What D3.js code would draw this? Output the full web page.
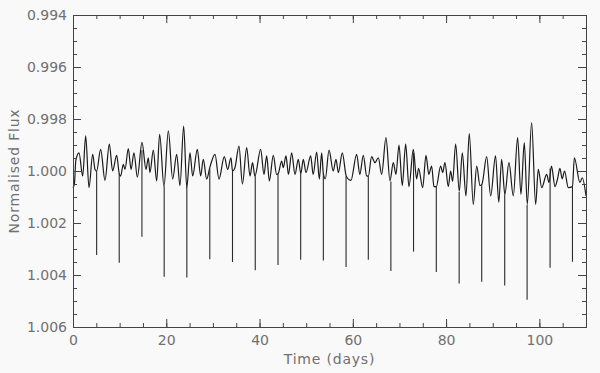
<!DOCTYPE html>
<html>
<head>
<meta charset="utf-8">
<script src="https://cdn.jsdelivr.net/npm/d3@7"></script>
<style>
  body { margin: 0; background: #f9f9f9; }
  svg { display: block; }
  .tick text { font-family: "DejaVu Sans", sans-serif; font-size: 14px; fill: #707070; }
  .axis path, .axis line { stroke: #444; }
</style>
</head>
<body>
<svg id="drawing_region"></svg>
<script>
// light curve (peaks and troughs), time in days
const curveTime = [0.0, 0.3, 0.6, 1.29, 2.08, 2.72, 3.43, 4.22, 4.72, 5.07, 5.93, 6.86, 7.79, 8.5, 9.36, 9.91, 10.2, 10.79, 11.15, 11.86, 12.44, 13.08, 13.8, 14.8, 15.65, 16.15, 16.5, 17.22, 17.94, 18.58, 19.51, 20.44, 21.37, 22.23, 22.94, 23.73, 24.4, 25.09, 25.66, 26.66, 27.37, 27.94, 28.66, 29.33, 29.6, 30.45, 31.3, 32.45, 33.16, 33.88, 34.2, 34.73, 35.59, 36.33, 37.24, 37.95, 38.5, 39.0, 40.24, 40.95, 41.53, 42.1, 42.95, 43.66, 44.0, 44.74, 45.09, 45.67, 46.2, 46.89, 47.6, 48.31, 48.85, 49.38, 49.96, 50.96, 51.5, 52.25, 52.82, 53.32, 53.68, 54.1, 54.9, 55.8, 56.39, 56.9, 57.75, 58.6, 59.6, 60.82, 61.5, 62.25, 62.97, 63.32, 64.04, 64.75, 65.47, 66.19, 67.11, 67.97, 68.68, 69.25, 69.9, 70.6, 71.33, 72.04, 72.97, 73.68, 74.1, 74.98, 75.69, 76.3, 76.9, 77.4, 77.9, 78.83, 79.27, 79.76, 80.47, 80.98, 81.4, 82.05, 82.83, 83.48, 84.26, 84.97, 85.83, 86.56, 87.27, 87.7, 88.7, 89.56, 90.6, 91.3, 91.91, 92.6, 93.48, 94.41, 95.34, 96.05, 96.77, 97.41, 98.34, 99.2, 99.77, 100.5, 101.57, 102.06, 102.6, 103.35, 103.9, 104.4, 104.9, 105.4, 106.2, 107.1, 107.5, 108.7, 109.2, 110.0];
const curveFlux = [1.00065, 1.0005, 0.9996, 0.9993, 1.00019, 0.99865, 1.00064, 0.99936, 0.99994, 1.0000, 0.99917, 1.00036, 0.99897, 1.0000, 0.9994, 1.0001, 1.0002, 0.99974, 0.99994, 0.99914, 0.99994, 0.9993, 1.00024, 0.9989, 0.99994, 0.99949, 1.00006, 0.9992, 1.00038, 0.99859, 1.0006, 0.99846, 1.00031, 0.99936, 1.00056, 0.99827, 1.00064, 0.9993, 1.00019, 0.99917, 1.00019, 0.99955, 1.00031, 0.99987, 0.9997, 0.99936, 1.00031, 0.99945, 0.99994, 0.99949, 1.0000, 0.99987, 0.99904, 1.0005, 0.9991, 1.00019, 0.99968, 1.0002, 0.99917, 1.00013, 0.99942, 1.00038, 0.9994, 1.00013, 1.0001, 0.99962, 0.99987, 0.99942, 1.00013, 0.9993, 1.00013, 0.99955, 1.0001, 0.99955, 1.00006, 0.99942, 1.00013, 0.99927, 1.00031, 0.9993, 1.0001, 1.0003, 0.9992, 1.0000, 0.99955, 1.00006, 0.9993, 1.0002, 1.00036, 0.99936, 1.00013, 0.9994, 1.00019, 1.0002, 0.99945, 0.99968, 0.99949, 1.00013, 0.99872, 1.00038, 0.99968, 1.00013, 0.999, 1.00056, 0.99897, 1.0006, 0.99917, 1.0003, 0.9999, 1.00064, 0.9994, 1.00013, 0.99981, 1.0006, 1.0006, 0.99981, 1.00006, 0.99968, 1.0006, 1.0000, 1.0004, 0.99897, 1.00077, 0.9993, 1.00096, 0.99856, 1.00128, 0.99981, 1.00056, 1.0005, 0.99945, 1.00096, 0.99942, 1.0012, 0.99955, 1.0009, 0.99968, 1.00096, 0.99872, 1.0009, 0.99891, 1.00128, 0.99814, 1.00128, 0.99994, 1.00064, 1.00013, 1.00044, 0.99981, 1.0006, 1.0003, 0.9999, 1.0003, 1.0000, 1.00064, 1.0006, 0.99949, 1.00044, 1.00026, 1.00096];

// transits: time, flux at the top of the dip and flux at the bottom
const transitTime = [5.07, 9.91, 14.78, 19.55, 24.41, 29.33, 34.2, 39.08, 43.96, 48.82, 53.68, 58.55, 63.32, 68.16, 73.02, 77.9, 82.8, 87.64, 92.57, 97.37, 102.3, 107.1];
const transitTop = [1.0000, 1.0001, 0.9992, 1.0006, 1.0006, 0.9999, 1.0000, 1.0002, 1.0001, 1.0001, 1.0001, 1.0002, 1.0002, 1.0004, 0.9993, 1.0006, 1.0008, 1.0005, 1.0009, 1.0013, 0.9999, 1.0006];
const transitDepth = [1.00323, 1.00353, 1.00253, 1.00407, 1.0041, 1.00339, 1.0035, 1.00382, 1.00362, 1.00341, 1.00344, 1.00369, 1.00341, 1.00385, 1.0031, 1.00388, 1.00433, 1.00426, 1.0044, 1.00495, 1.00372, 1.00349];

// axis ticks
const xTicks = [0, 20, 40, 60, 80, 100];
const xMinor = d3.range(0, 111, 5);
const yTicks = [0.994, 0.996, 0.998, 1.000, 1.002, 1.004, 1.006];
const yMinor = d3.range(0, 25).map(i => 0.994 + i * 0.0005);

const config = {
    parent: '#drawing_region',
    width: 600,
    height: 373,
    margin: {top: 15, right: 14, bottom: 46, left: 73}
};

const svg = d3.select(config.parent)
    .attr('width', config.width)
    .attr('height', config.height);

const m = config.margin;
const w = config.width - m.left - m.right;
const h = config.height - m.top - m.bottom;

const chart = svg.append('g')
    .attr('transform', `translate(${m.left}, ${m.top})`);

const xscale = d3.scaleLinear().domain([0, 110]).range([0, w]);
const yscale = d3.scaleLinear().domain([0.994, 1.006]).range([0, h]);

// light curve
const points = curveTime.map((t, i) => [t, curveFlux[i]]);
const line = d3.line()
    .x(d => xscale(d[0]))
    .y(d => yscale(d[1]))
    .curve(d3.curveMonotoneX);

chart.append('path')
    .datum(points)
    .attr('d', line)
    .attr('fill', 'none')
    .attr('stroke', '#1a1a1a')
    .attr('stroke-width', 1.2);

// transit dips
chart.selectAll('.transit')
    .data(transitTime)
    .enter()
    .append('line')
    .attr('class', 'transit')
    .attr('x1', d => xscale(d))
    .attr('x2', d => xscale(d))
    .attr('y1', (d, i) => yscale(transitTop[i]))
    .attr('y2', (d, i) => yscale(transitDepth[i]))
    .attr('stroke', '#2a2a2a')
    .attr('stroke-width', 1.1);

// axes, ticks pointing inward on all four sides
const fmt = d3.format('.3f');

chart.append('g').attr('class', 'axis')
    .attr('transform', `translate(0, ${h})`)
    .call(d3.axisBottom(xscale).tickValues(xMinor).tickSize(-4).tickFormat(''));
chart.append('g').attr('class', 'axis')
    .attr('transform', `translate(0, ${h})`)
    .call(d3.axisBottom(xscale).tickValues(xTicks).tickSize(-8).tickPadding(8).tickFormat(d3.format('d')));

chart.append('g').attr('class', 'axis')
    .call(d3.axisTop(xscale).tickValues(xMinor).tickSize(-4).tickFormat(''));
chart.append('g').attr('class', 'axis')
    .call(d3.axisTop(xscale).tickValues(xTicks).tickSize(-8).tickFormat(''));

chart.append('g').attr('class', 'axis')
    .call(d3.axisLeft(yscale).tickValues(yMinor).tickSize(-4).tickFormat(''));
chart.append('g').attr('class', 'axis')
    .call(d3.axisLeft(yscale).tickValues(yTicks).tickSize(-8).tickPadding(6).tickFormat(fmt));

chart.append('g').attr('class', 'axis')
    .attr('transform', `translate(${w}, 0)`)
    .call(d3.axisRight(yscale).tickValues(yMinor).tickSize(-4).tickFormat(''));
chart.append('g').attr('class', 'axis')
    .attr('transform', `translate(${w}, 0)`)
    .call(d3.axisRight(yscale).tickValues(yTicks).tickSize(-8).tickFormat(''));

// axis titles
svg.append('text')
    .attr('x', m.left + w / 2)
    .attr('y', 364)
    .attr('text-anchor', 'middle')
    .attr('font-family', 'DejaVu Sans, sans-serif')
    .attr('font-size', '14px')
    .attr('letter-spacing', '0.8px')
    .attr('fill', '#707070')
    .text('Time (days)');

svg.append('text')
    .attr('transform', `translate(19, ${m.top + h / 2}) rotate(-90)`)
    .attr('text-anchor', 'middle')
    .attr('font-family', 'DejaVu Sans, sans-serif')
    .attr('font-size', '14px')
    .attr('letter-spacing', '0.8px')
    .attr('fill', '#707070')
    .text('Normalised Flux');
</script>
</body>
</html>
